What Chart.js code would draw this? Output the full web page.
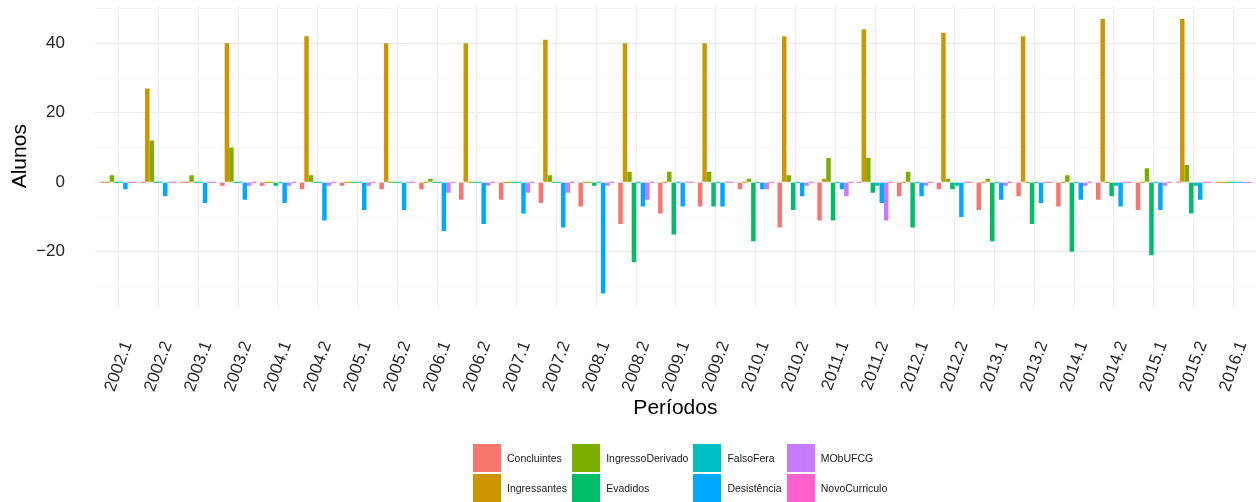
<!DOCTYPE html>
<html>
<head>
<meta charset="utf-8">
<script src="https://cdn.jsdelivr.net/npm/chart.js@4"></script>
<style>
  body { margin: 0; background: #fff; }
  #wrap { position: relative; width: 1256px; height: 502px; }
  #legend {
    position: absolute; left: 473px; top: 444px;
    display: grid; grid-auto-flow: column; grid-template-rows: 28px 28px;
    row-gap: 2px; column-gap: 5px;
    font: 10.5px "Liberation Sans", Arial, sans-serif; color: #1a1a1a;
  }
  .item { display: flex; align-items: center; }
  .key { width: 28px; height: 28px; margin-right: 6px; }
</style>
</head>
<body>
<div id="wrap">
  <canvas id="chart" width="1256" height="502"></canvas>
  <div id="legend"></div>
</div>
<script>
// periods (x axis)
const periods = ['2002.1','2002.2','2003.1','2003.2','2004.1','2004.2','2005.1','2005.2',
  '2006.1','2006.2','2007.1','2007.2','2008.1','2008.2','2009.1','2009.2','2010.1','2010.2',
  '2011.1','2011.2','2012.1','2012.2','2013.1','2013.2','2014.1','2014.2','2015.1','2015.2','2016.1'];

// series, in the ggplot factor order
const concluintes      = [0,0,0,-1,-1,-2,-1,-2,-2,-5,-5,-6,-7,-12,-9,-7,-2,-13,-11,0,-4,-2,-8,-4,-7,-5,-8,0,0];
const ingressantes     = [0,27,0,40,0,42,0,40,0,40,0,41,0,40,0,40,0,42,1,44,0,43,0,42,0,47,0,47,0];
const ingressoDerivado = [2,12,2,10,0,2,0,0,1,0,0,2,0,3,3,3,1,2,7,7,3,1,1,0,2,0,4,5,0];
const evadidos         = [0,0,0,0,-1,0,0,0,0,0,0,0,-1,-23,-15,-7,-17,-8,-11,-3,-13,-2,-17,-12,-20,-4,-21,-9,0];
const falsoFera        = [0,0,0,0,0,0,0,0,0,0,0,0,0,0,0,0,0,0,0,-1,0,-1,0,0,0,-1,0,-1,0];
const desistencia      = [-2,-4,-6,-5,-6,-11,-8,-8,-14,-12,-9,-13,-32,-7,-7,-7,-2,-4,-2,-6,-4,-10,-5,-6,-5,-7,-8,-5,0];
const mobUFCG          = [0,0,0,-1,-1,-1,-1,0,-3,-1,-3,-3,-1,-5,0,0,-2,-1,-4,-11,-1,0,-1,0,-1,0,-1,0,0];
const novoCurriculo    = [0,0,0,0,0,0,0,0,0,0,0,0,0,0,0,0,0,0,0,0,0,0,0,0,0,0,0,0,0];

const seriesNames  = ['Concluintes','Ingressantes','IngressoDerivado','Evadidos','FalsoFera','Desistência','MObUFCG','NovoCurriculo'];
const seriesValues = [concluintes, ingressantes, ingressoDerivado, evadidos, falsoFera, desistencia, mobUFCG, novoCurriculo];
const seriesColors = ['#F8766D','#CD9600','#7CAE00','#00BE67','#00BFC4','#00A9FF','#C77CFF','#FF61CC'];

// y ticks: labels every 20, minor grid every 10
const yTicks = [-30,-20,-10,0,10,20,30,40,50];
const yMin = -35.95, yMax = 50.95;

const FONT = '"Liberation Sans", Arial, sans-serif';

const datasets = seriesNames.map((name, i) => ({
  label: name,
  data: seriesValues[i],
  backgroundColor: seriesColors[i],
  borderWidth: 0,
  minBarLength: 1,
  categoryPercentage: 0.9,
  barPercentage: 1.0
}));

const ctx = document.getElementById('chart').getContext('2d');
new Chart(ctx, {
  type: 'bar',
  data: { labels: periods, datasets: datasets },
  options: {
    responsive: false,
    animation: false,
    layout: { padding: { left: 7.4, top: 5.2, right: 0, bottom: 80.8 } },
    plugins: { legend: { display: false }, tooltip: { enabled: false } },
    scales: {
      x: {
        offset: true,
        grid: { offset: false, color: '#EBEBEB', lineWidth: 1, drawTicks: false },
        border: { display: false },
        ticks: {
          autoSkip: false, minRotation: 70, maxRotation: 70, padding: 31.3, labelOffset: 9,
          color: '#262626', font: { family: FONT, size: 17 }
        },
        title: {
          display: true, text: 'Períodos', color: '#000', padding: 0,
          font: { family: FONT, size: 21 }
        },
        afterFit: s => { s.height = 114; s.paddingLeft = 0; s.paddingRight = 0; },
        // ggplot discrete expansion (0.6 category each side)
        afterUpdate: s => { s._startValue = -0.6; s._valueRange = 29.17; }
      },
      y: {
        min: yMin, max: yMax,
        afterBuildTicks: s => { s.ticks = yTicks.map(v => ({ value: v })); },
        grid: {
          drawTicks: false,
          color: c => (c.tick && c.tick.value % 20 === 0) ? '#EBEBEB' : '#F6F6F6',
          lineWidth: 1
        },
        border: { display: false },
        ticks: {
          padding: 29.8, color: '#262626', font: { family: FONT, size: 17 },
          callback: v => v % 20 === 0 ? String(v).replace('-', '\u2212') : ''
        },
        title: {
          display: true, text: 'Alunos', color: '#000', padding: 0,
          font: { family: FONT, size: 21 }
        },
        afterFit: s => { s.width = 87.4; s.paddingTop = 0; s.paddingBottom = 0; }
      }
    }
  }
});

// legend, column-major like the reference
const legend = document.getElementById('legend');
seriesNames.forEach((name, i) => {
  const item = document.createElement('div');
  item.className = 'item';
  item.innerHTML = '<span class="key" style="background:' + seriesColors[i] + '"></span><span>' + name + '</span>';
  legend.appendChild(item);
});
</script>
</body>
</html>
